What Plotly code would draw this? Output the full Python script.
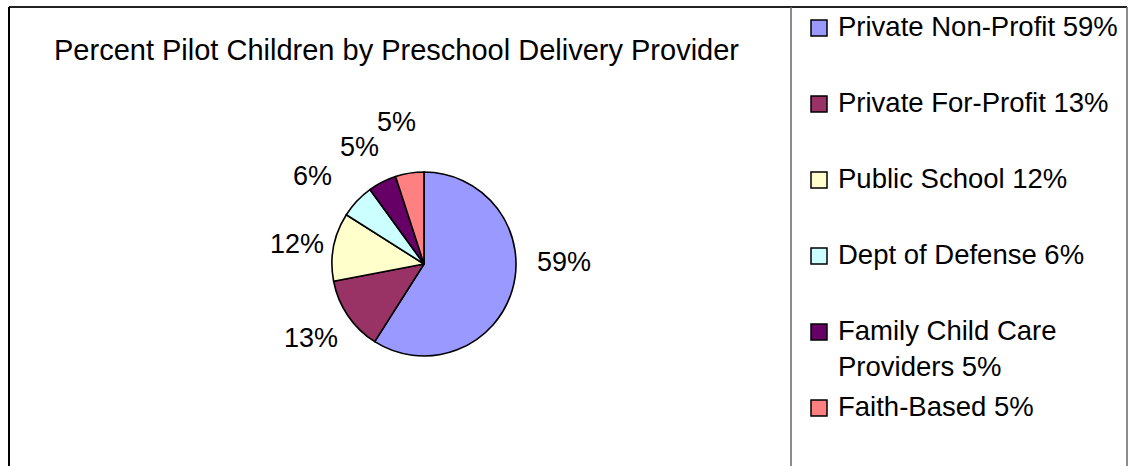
import math
import textwrap
import plotly.graph_objects as go

# Share of pilot children by preschool delivery provider (percent)
providers = [
    "Private Non-Profit",
    "Private For-Profit",
    "Public School",
    "Dept of Defense",
    "Family Child Care Providers",
    "Faith-Based",
]
percents = [59, 13, 12, 6, 5, 5]
slice_colors = ["#9999FF", "#993366", "#FFFFCC", "#CCFFFF", "#660066", "#FF8080"]

TITLE = "Percent Pilot Children by Preschool Delivery Provider"

W, H = 1136, 466
FONT = "Arial, Liberation Sans, sans-serif"

# pie geometry in pixels
CX, CY, R = 424, 264, 92


def px(x):
    return x / W


def py(y):
    return 1 - y / H


fig = go.Figure(
    go.Pie(
        labels=providers,
        values=percents,
        sort=False,
        direction="clockwise",
        rotation=0,
        marker=dict(colors=slice_colors, line=dict(color="black", width=1.6)),
        textinfo="none",
        hoverinfo="label+percent",
        showlegend=False,
        domain=dict(x=[px(CX - R), px(CX + R)], y=[py(CY + R), py(CY - R)]),
    )
)

annotations = []
shapes = []

# slice labels, placed out from each slice's middle angle (best-fit style)
label_dist = [140, 135, 129, 142, 134, 145]
label_turn = [-17, 1, -2, -5, -2, -2]
total = sum(percents)
start = 0.0
for i, v in enumerate(percents):
    sweep = 360.0 * v / total
    mid = math.radians(start + sweep / 2 + label_turn[i])
    start += sweep
    lx = CX + label_dist[i] * math.sin(mid)
    ly = CY - label_dist[i] * math.cos(mid)
    annotations.append(dict(
        x=px(lx), y=py(ly), xref="paper", yref="paper",
        text=f"{round(100 * v / total)}%", showarrow=False,
        xanchor="center", yanchor="middle",
        font=dict(family=FONT, size=27, color="black"),
    ))

# title
annotations.append(dict(
    x=px(396), y=py(50), xref="paper", yref="paper", text=TITLE,
    showarrow=False, xanchor="center", yanchor="middle",
    font=dict(family=FONT, size=29, color="black"),
))

# legend panel built as squares + text
row_y = 27
for i, (name, v) in enumerate(zip(providers, percents)):
    lines = textwrap.wrap(f"{name} {v}%", 22)
    shapes.append(dict(
        type="rect", xref="paper", yref="paper",
        x0=px(811), x1=px(827), y0=py(row_y + 9), y1=py(row_y - 7),
        fillcolor=slice_colors[i], line=dict(color="black", width=1.5),
    ))
    annotations.append(dict(
        x=px(836), y=py(row_y - 18), xref="paper", yref="paper",
        text="<br>".join(lines), showarrow=False, align="left",
        xanchor="left", yanchor="top",
        font=dict(family=FONT, size=27.5, color="black"),
    ))
    row_y += 76

# chart frame and legend divider
shapes += [
    dict(type="line", xref="paper", yref="paper", x0=px(9), x1=px(1127),
         y0=py(7), y1=py(7), line=dict(color="#222222", width=2)),
    dict(type="line", xref="paper", yref="paper", x0=px(9), x1=px(9),
         y0=py(7), y1=py(470), line=dict(color="black", width=2)),
    dict(type="line", xref="paper", yref="paper", x0=px(1127), x1=px(1127),
         y0=py(7), y1=py(470), line=dict(color="#666666", width=1.5)),
    dict(type="line", xref="paper", yref="paper", x0=px(791), x1=px(791),
         y0=py(7), y1=py(470), line=dict(color="#666666", width=1.5)),
]

fig.update_layout(
    width=W, height=H,
    margin=dict(l=0, r=0, t=0, b=0),
    paper_bgcolor="white", plot_bgcolor="white",
    annotations=annotations, shapes=shapes,
)

fig.write_html("out.html")
